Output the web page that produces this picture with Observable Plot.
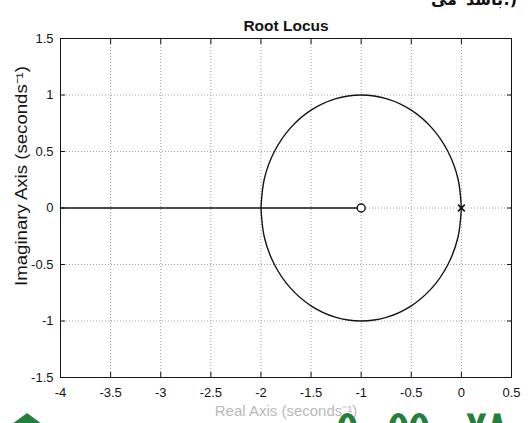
<!DOCTYPE html>
<html><head><meta charset="utf-8">
<script src="https://cdn.jsdelivr.net/npm/d3@7"></script>
<script src="https://cdn.jsdelivr.net/npm/@observablehq/plot@0.6"></script>
<style>
html,body{margin:0;padding:0;background:#fff;width:530px;height:423px;overflow:hidden;}
#wrap{position:relative;width:530px;height:423px;overflow:hidden;}
#chart svg{display:block;}
.fa{position:absolute;font-family:"DejaVu Sans";font-weight:bold;white-space:nowrap;line-height:1;}
.top{top:-8px;font-size:16px;color:#111;}
.green{color:#23803a;font-size:34px;top:406px;}
#tri{position:absolute;left:8px;top:413px;width:0;height:0;border-left:19px solid transparent;border-right:19px solid transparent;border-bottom:14px solid #23803a;}
</style></head><body><div id="wrap"><div id="chart"></div>
<div class="fa top" style="right:73px">می</div>
<div class="fa top" style="right:27px">باشد</div>
<div class="fa top" style="right:13px">.)</div>
<div class="fa green" style="left:337px">۵</div>
<div class="fa green" style="left:388px">۵۵</div>
<div class="fa green" style="left:466px">۷۸</div>
<div id="tri"></div>
</div>
<script>
const titleText = "Root Locus";
const xLabelText = "Real Axis (seconds⁻¹)";
const yLabelText = "Imaginary Axis (seconds⁻¹)";

const xTicks = [-4, -3.5, -3, -2.5, -2, -1.5, -1, -0.5, 0, 0.5];
const xTickLabels = ["-4", "-3.5", "-3", "-2.5", "-2", "-1.5", "-1", "-0.5", "0", "0.5"];
const yTicks = [-1.5, -1, -0.5, 0, 0.5, 1, 1.5];
const yTickLabels = ["-1.5", "-1", "-0.5", "0", "0.5", "1", "1.5"];

// Upper complex branch (from pole at 0 to breakaway at -2)
const upperRe = [0, -0.034, -0.134, -0.293, -0.5, -0.741, -1, -1.259, -1.5, -1.707, -1.866, -1.966, -2];
const upperIm = [0, 0.259, 0.5, 0.707, 0.866, 0.966, 1, 0.966, 0.866, 0.707, 0.5, 0.259, 0];
// Lower complex branch
const lowerRe = [0, -0.034, -0.134, -0.293, -0.5, -0.741, -1, -1.259, -1.5, -1.707, -1.866, -1.966, -2];
const lowerIm = [0, -0.259, -0.5, -0.707, -0.866, -0.966, -1, -0.966, -0.866, -0.707, -0.5, -0.259, 0];
// Real-axis branch
const realRe = [-4, -1];
const realIm = [0, 0];
// Poles and zeros
const poleRe = [0];
const poleIm = [0];
const zeroRe = [-1];
const zeroIm = [0];

const toPts = (re, im, branch) => re.map((r, i) => ({re: r, im: im[i], branch}));
const locus = [...toPts(upperRe, upperIm, "up"), ...toPts(lowerRe, lowerIm, "low")];
const realBranch = toPts(realRe, realIm, "real");
const poles = toPts(poleRe, poleIm, "p");
const zeros = toPts(zeroRe, zeroIm, "z");

const fx = d => xTickLabels[xTicks.indexOf(d)];
const fy = d => yTickLabels[yTicks.indexOf(d)];
const blank = () => "";
const ink = "#141414";
const gridStyle = {stroke: "#9c9c9c", strokeOpacity: 1, strokeWidth: 1, strokeDasharray: "1,2"};

const chart = Plot.plot({
  width: 530,
  height: 423,
  marginLeft: 60,
  marginRight: 19,
  marginTop: 38,
  marginBottom: 46,
  style: {fontFamily: "'Liberation Sans', Arial, sans-serif", fontSize: "13px", color: ink, background: "white"},
  x: {domain: [xTicks[0], xTicks[xTicks.length - 1]]},
  y: {domain: [yTicks[0], yTicks[yTicks.length - 1]]},
  marks: [
    Plot.gridX(xTicks, gridStyle),
    Plot.gridY(yTicks, gridStyle),
    Plot.line(realBranch, {x: "re", y: "im", stroke: ink, strokeWidth: 1.6}),
    Plot.line(locus, {x: "re", y: "im", z: "branch", curve: "catmull-rom", stroke: ink, strokeWidth: 1.4}),
    Plot.dot(zeros, {x: "re", y: "im", r: 4, stroke: ink, fill: "white", strokeWidth: 1.4}),
    Plot.dot(poles, {x: "re", y: "im", symbol: "times", r: 3.2, stroke: ink, strokeWidth: 1.6}),
    Plot.frame({stroke: ink, strokeWidth: 1}),
    Plot.axisX(xTicks, {anchor: "bottom", tickSize: -5, tickPadding: 15, tickFormat: fx, label: null, fontSize: 13}),
    Plot.axisX(xTicks, {anchor: "top", tickSize: -5, tickFormat: blank, label: null}),
    Plot.axisY(yTicks, {anchor: "left", tickSize: -5, tickPadding: 12, tickFormat: fy, label: null, fontSize: 13}),
    Plot.axisY(yTicks, {anchor: "right", tickSize: -5, tickFormat: blank, label: null}),
    Plot.text([titleText], {frameAnchor: "top", dy: -19, fontWeight: "bold", fontSize: 15.5, fill: ink}),
    Plot.text([yLabelText], {frameAnchor: "left", textAnchor: "middle", rotate: -90, dx: -39, dy: -32, fontSize: 16, fill: ink, className: "ylab"}),
    Plot.text([xLabelText], {frameAnchor: "bottom", textAnchor: "middle", dy: 38, fontSize: 15, fill: "#b9b9b9"})
  ]
});
d3.select(chart).selectAll(".ylab text").attr("textLength", 220).attr("lengthAdjust", "spacingAndGlyphs");
document.getElementById("chart").appendChild(chart);
</script>
</body></html>
